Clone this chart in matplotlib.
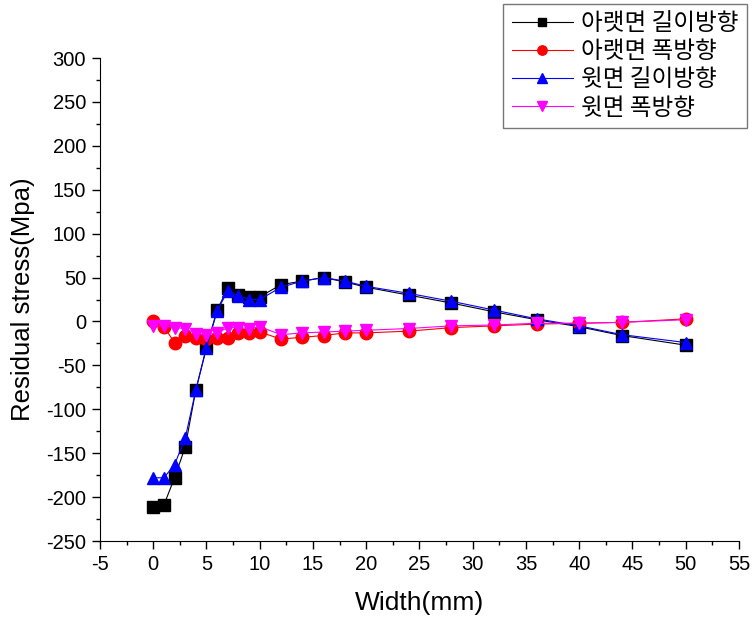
import matplotlib
matplotlib.use("Agg")
import matplotlib.pyplot as plt
from matplotlib.ticker import MultipleLocator

plt.rcParams['font.family'] = ['Liberation Sans', 'Noto Sans CJK KR', 'DejaVu Sans']
plt.rcParams['axes.unicode_minus'] = False

width_mm = [0, 1, 2, 3, 4, 5, 6, 7, 8, 9, 10, 12, 14, 16, 18, 20, 24, 28, 32, 36, 40, 44, 50]

bottom_long = [-211, -209, -178, -143, -78, -29, 13, 38, 30, 28, 28, 42, 46, 50, 45, 39,
               30, 21, 11, 2, -6, -16, -27]
bottom_trans = [0, -6, -24, -16, -19, -20, -19, -19, -13, -13, -12, -20, -18, -16, -13, -13,
                -11, -7, -5, -3, -2, -1, 3]
top_long = [-178, -178, -163, -133, -78, -30, 12, 35, 29, 25, 25, 39, 46, 50, 46, 40,
            32, 23, 13, 3, -5, -15, -24]
top_trans = [-5, -5, -7, -8, -14, -15, -13, -7, -7, -8, -6, -15, -13, -12, -11, -10,
             -8, -5, -4, -2, -2, -1, 2]

labels = ["아랫면 길이방향", "아랫면 폭방향", "윗면 길이방향", "윗면 폭방향"]

fig = plt.figure(figsize=(7.53, 6.2), dpi=100)
ax = fig.add_axes([0.1328, 0.1274, 0.8486, 0.7790])

series = [
    (bottom_long, "black", "s", 8),
    (bottom_trans, "red", "o", 9),
    (top_long, "blue", "^", 9),
    (top_trans, "magenta", "v", 9),
]
handles = []
for (vals, col, mk, ms), lab in zip(series, labels):
    h, = ax.plot(width_mm, vals, color=col, marker=mk, markersize=ms, linewidth=0.8,
                 markeredgecolor=col, markerfacecolor=col, label=lab)
    handles.append(h)

ax.set_xlim(-5, 55)
ax.set_ylim(-250, 300)
ax.xaxis.set_major_locator(MultipleLocator(5))
ax.xaxis.set_minor_locator(MultipleLocator(2.5))
ax.yaxis.set_major_locator(MultipleLocator(50))
ax.yaxis.set_minor_locator(MultipleLocator(25))
ax.spines['top'].set_visible(False)
ax.spines['right'].set_visible(False)
ax.tick_params(which='major', direction='out', length=6, width=1, labelsize=14.5, pad=4)
ax.tick_params(which='minor', direction='out', length=3, width=1)
ax.set_xlabel("Width(mm)", fontsize=19, labelpad=12)
ax.set_ylabel("Residual stress(Mpa)", fontsize=18.5, labelpad=8)

leg = fig.legend(handles=handles, loc='upper right', bbox_to_anchor=(0.992, 0.994),
                 frameon=True, fancybox=False, edgecolor='#555555',
                 handlelength=2.6, handletextpad=0.35, borderpad=0.35, labelspacing=0.22,
                 borderaxespad=0.0, markerscale=0.75,
                 prop={'family': ['Noto Sans CJK KR', 'DejaVu Sans'], 'size': 17})
leg.get_frame().set_linewidth(1.0)

fig.savefig("out.png", dpi=100)
